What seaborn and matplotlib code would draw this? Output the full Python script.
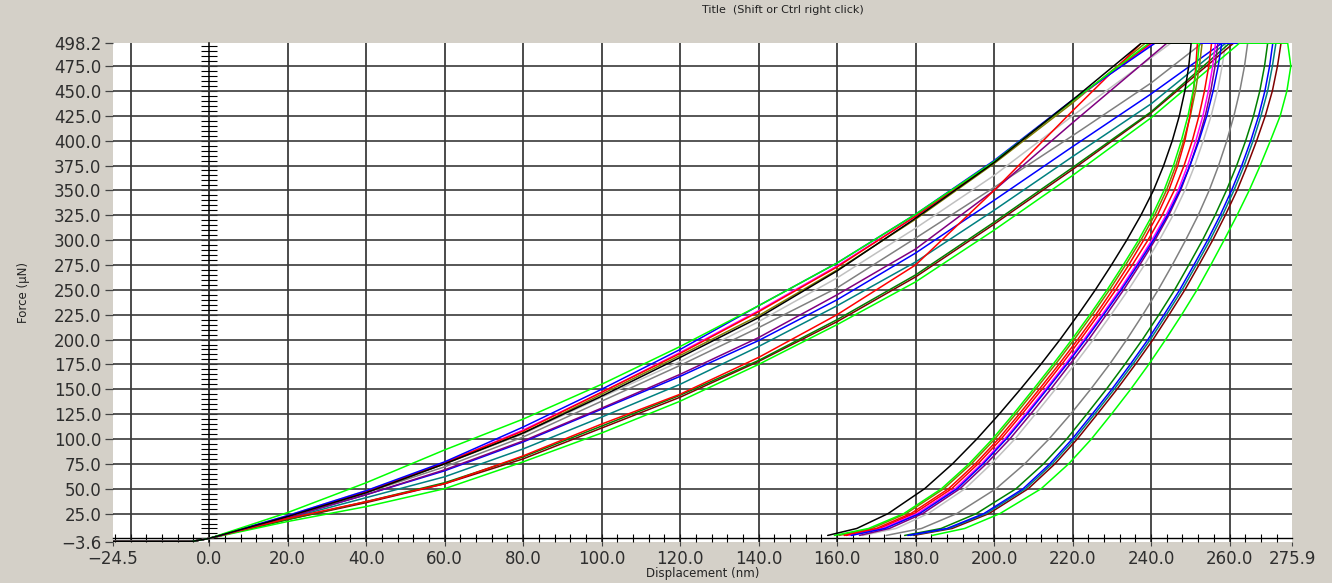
import numpy as np
import pandas as pd
import matplotlib
matplotlib.use("Agg")
import matplotlib.pyplot as plt
import seaborn as sns

# ---------------- data ----------------
CURVES = ["silver", "gray", "maroon", "teal", "darkgreen", "blue_B", "lime_B",
          "purple", "olive", "red2", "magenta", "red_A", "blue_A", "lime_A", "black"]
COLORS = {"silver": "#c0c0c0", "gray": "#808080", "maroon": "#800000", "teal": "#008080",
          "darkgreen": "#008000", "blue_B": "#0000ff", "lime_B": "#00ff00",
          "purple": "#800080", "olive": "#808000", "red2": "#ff0000", "magenta": "#ff00ff",
          "red_A": "#ff0000", "blue_A": "#0000ff", "lime_A": "#00ff00", "black": "#000000"}

# approach segment before contact (nm, uN)
APPROACH_X = [-24.5, -4.5]
APPROACH_F = [-3.1, -3.1]

# loading: force at these displacements (nm)
LOAD_X = [0, 20, 40, 60, 80, 100, 120, 140, 160, 180, 200, 220, 240]
LOAD_F = {
    "black":     [0, 22, 46, 75, 106, 143, 182, 222, 269, 322, 378, 441],
    "olive":     [0, 22, 46, 75, 106, 145, 184, 224, 270, 321, 377, 438],
    "lime_A":    [0, 26, 56, 89, 120, 155, 193, 234, 277, 326, 379, 440],
    "red_A":     [0, 22, 47, 76, 108, 147, 186, 228, 273, 324, 379, 440],
    "blue_A":    [0, 23, 48, 77, 112, 150, 190, 234, 277, 326, 380, 441],
    "magenta":   [0, 22, 47, 76, 109, 147, 187, 229, 274, 324, 379, 440],
    "silver":    [0, 23, 48, 75, 105, 142, 178, 218, 262, 312, 365, 425],
    "purple":    [0, 21, 44, 69, 98, 131, 165, 202, 245, 291, 350, 418],
    "red2":      [0, 20, 37, 55, 83, 115, 145, 182, 225, 275, 350, 430],
    "gray":      [0, 22, 46, 72, 102, 138, 174, 212, 252, 302, 353, 405, 458],
    "blue_B":    [0, 21, 44, 68, 97, 130, 163, 199, 240, 287, 340, 394, 447],
    "teal":      [0, 20, 41, 62, 90, 122, 155, 193, 234, 278, 330, 384, 437],
    "darkgreen": [0, 19, 37, 56, 82, 113, 144, 179, 220, 265, 318, 373, 429],
    "maroon":    [0, 19, 36, 55, 80, 111, 142, 178, 218, 263, 316, 371, 428],
    "lime_B":    [0, 17, 32, 50, 77, 106, 138, 175, 215, 258, 310, 365, 423],
}
# displacement where the loading reaches the peak force
LOAD_TOP_X = {"black": 237.5, "olive": 238.5, "lime_A": 239.5, "red_A": 240.0,
              "blue_A": 241.0, "magenta": 240.5, "silver": 245.0, "purple": 244.0,
              "red2": 237.5, "gray": 253.0, "blue_B": 258.0, "teal": 259.0,
              "darkgreen": 260.0, "maroon": 261.0, "lime_B": 262.5}
PEAK_F = 498.0

# unloading: displacement at these force levels (uN)
UNLOAD_F = [498, 475, 450, 425, 400, 375, 350, 325, 300, 275, 250, 225, 200, 175,
            150, 125, 100, 75, 50, 25, 10, 3]
UNLOAD_X = {
    "black":     [250.2, 249.6, 248.6, 247.2, 245.4, 243.2, 240.6, 237.4, 233.8, 229.9, 225.8,
                  221.4, 216.8, 211.9, 206.7, 201.3, 195.6, 189.4, 182.3, 173.0, 165.0, 157.6],
    "lime_A":    [252.3, 251.7, 250.7, 249.4, 247.7, 245.7, 243.3, 240.3, 236.8, 232.9, 228.8,
                  224.4, 219.8, 215.0, 210.0, 204.9, 199.6, 193.6, 186.6, 177.0, 168.0, 159.3],
    "olive":     [253.0, 252.3, 251.3, 250.0, 248.3, 246.3, 243.9, 240.9, 237.4, 233.5, 229.4,
                  225.0, 220.4, 215.6, 210.6, 205.5, 200.2, 194.2, 187.2, 177.6, 168.8, 160.5],
    "red_A":     [251.8, 251.4, 250.8, 249.9, 248.6, 246.8, 244.5, 241.6, 238.1, 234.3, 230.2,
                  225.9, 221.3, 216.5, 211.5, 206.4, 201.1, 195.2, 188.4, 178.8, 170.0, 161.8],
    "red2":      [255.4, 254.7, 253.6, 252.2, 250.5, 248.4, 245.9, 242.8, 239.2, 235.2, 231.0,
                  226.6, 222.0, 217.2, 212.2, 207.1, 201.8, 195.9, 189.2, 179.6, 170.8, 162.3],
    "magenta":   [256.4, 255.7, 254.6, 253.2, 251.4, 249.3, 246.9, 243.8, 240.2, 236.2, 232.0,
                  227.5, 222.9, 218.1, 213.1, 208.0, 202.7, 196.8, 190.1, 180.4, 171.5, 163.0],
    "blue_A":    [258.0, 257.1, 255.8, 254.2, 252.2, 249.9, 247.3, 244.2, 240.6, 236.6, 232.4,
                  227.9, 223.3, 218.5, 213.5, 208.4, 203.1, 197.2, 190.6, 181.0, 172.2, 163.6],
    "purple":    [257.0, 256.3, 255.2, 253.8, 252.0, 249.9, 247.5, 244.5, 241.0, 237.1, 233.0,
                  228.6, 224.1, 219.3, 214.4, 209.3, 204.0, 198.0, 191.3, 181.8, 173.3, 165.7],
    "silver":    [259.0, 258.1, 256.9, 255.3, 253.3, 251.1, 248.6, 245.6, 242.1, 238.3, 234.2,
                  229.8, 225.3, 220.5, 215.6, 210.5, 205.3, 199.3, 192.6, 183.2, 175.0, 166.5],
    "gray":      [264.6, 263.8, 262.6, 261.1, 259.3, 257.2, 254.8, 252.0, 248.8, 245.4, 241.8,
                  237.9, 233.8, 229.4, 224.6, 219.5, 214.0, 207.8, 200.5, 190.5, 181.5, 172.5],
    "darkgreen": [269.7, 268.9, 267.7, 266.1, 264.1, 261.8, 259.2, 256.3, 253.1, 249.6, 246.0,
                  242.0, 237.8, 233.3, 228.6, 223.6, 218.5, 212.6, 205.6, 195.5, 186.5, 177.2],
    "blue_B":    [271.0, 270.2, 269.0, 267.4, 265.4, 263.1, 260.5, 257.6, 254.4, 250.9, 247.3,
                  243.3, 239.2, 234.7, 230.0, 225.0, 219.9, 214.2, 207.4, 197.4, 188.0, 178.0],
    "teal":      [271.8, 270.9, 269.7, 268.0, 266.0, 263.7, 261.1, 258.2, 255.0, 251.5, 247.9,
                  243.9, 239.8, 235.3, 230.6, 225.6, 220.5, 214.8, 208.0, 198.0, 188.5, 178.6],
    "maroon":    [273.1, 272.2, 270.9, 269.1, 266.9, 264.5, 261.9, 258.9, 255.7, 252.2, 248.6,
                  244.6, 240.5, 236.0, 231.3, 226.3, 221.2, 215.5, 208.7, 198.7, 189.3, 179.5],
    "lime_B":    [274.8, 275.6, 274.6, 272.9, 270.4, 267.8, 265.0, 261.9, 258.6, 255.2, 251.7,
                  247.8, 243.7, 239.4, 234.8, 229.9, 224.8, 219.0, 212.0, 201.5, 192.5, 184.2],
}

XMIN, XMAX = -24.5, 275.9
YMIN, YMAX = -3.6, 498.2
XTICKS = [-24.5, 0, 20, 40, 60, 80, 100, 120, 140, 160, 180, 200, 220, 240, 260, 275.9]
YTICKS = [-3.6, 25, 50, 75, 100, 125, 150, 175, 200, 225, 250, 275, 300, 325, 350, 375,
          400, 425, 450, 475, 498.2]
GRID_X = [-20, 20, 40, 60, 80, 100, 120, 140, 160, 180, 200, 220, 240, 260]
GRID_Y = [25, 50, 75, 100, 125, 150, 175, 200, 225, 250, 275, 300, 325, 350, 375, 400, 425, 450, 475]

# ---------------- build long table ----------------
rows = []
for name in CURVES:
    lf = LOAD_F[name]
    xs = APPROACH_X + LOAD_X[:len(lf)] + [LOAD_TOP_X[name]] + UNLOAD_X[name]
    fs = APPROACH_F + lf + [PEAK_F] + UNLOAD_F
    for i, (x, f) in enumerate(zip(xs, fs)):
        rows.append({"curve": name, "order": i, "disp": x, "force": f})
df = pd.DataFrame(rows)

# ---------------- figure ----------------
sns.set_theme(style="white")
plt.rcParams["font.family"] = ["DejaVu Sans"]
BG = "#d4d0c8"
fig = plt.figure(figsize=(13.32, 5.83), dpi=100, facecolor=BG)
W, H = 1332, 583
L, R, T, B = 113, 1292, 43, 542
ax = fig.add_axes([L / W, 1 - B / H, (R - L) / W, (B - T) / H])
ax.set_facecolor("white")

for gx in GRID_X:
    ax.axvline(gx, color="#1a1a1a", lw=1.1, zorder=1)
for gy in GRID_Y:
    ax.axhline(gy, color="#3a3a3a", lw=1.2, zorder=1)

sns.lineplot(data=df, x="disp", y="force", hue="curve", hue_order=CURVES,
             palette=COLORS, sort=False, estimator=None, legend=False,
             linewidth=1.1, ax=ax, zorder=3)

ax.set_xlim(XMIN, XMAX)
ax.set_ylim(YMIN, YMAX)
for s in ax.spines.values():
    s.set_visible(False)

ax.set_xticks(XTICKS)
ax.set_xticklabels([f"{v:.1f}".replace("-", "\u2212") for v in XTICKS])
ax.set_yticks(YTICKS)
ax.set_yticklabels([f"{v:.1f}".replace("-", "\u2212") for v in YTICKS])
ax.tick_params(axis="x", which="major", direction="out", length=3, width=0.8,
               color="#444444", labelsize=12, labelcolor="#2e2e2e", pad=2.5, bottom=True)
ax.tick_params(axis="y", which="major", direction="out", length=6, width=0.9,
               color="#444444", labelsize=12, labelcolor="#2e2e2e", pad=2.5, left=True)

# zero axes with fine tick marks
secy = ax.secondary_yaxis((0 - XMIN) / (XMAX - XMIN))
secy.set_yticks(np.arange(0, 499, 5))
secy.tick_params(direction="inout", length=11, width=0.8, color="black",
                 labelleft=False, labelright=False)
for s in secy.spines.values():
    s.set_color("black")
    s.set_linewidth(1.1)

secx = ax.secondary_xaxis((0 - YMIN) / (YMAX - YMIN))
secx.set_xticks(np.arange(-24, 276, 4))
secx.tick_params(direction="inout", length=6, width=0.8, color="black",
                 labelbottom=False, labeltop=False)
for s in secx.spines.values():
    s.set_color("black")
    s.set_linewidth(1.0)

ax.set_xlabel("Displacement (nm)", fontsize=8.5, color="#222222")
ax.xaxis.set_label_coords(0.5, -(574 - B) / (B - T))
ax.xaxis.label.set_va("center")
ax.set_ylabel("Force (µN)", fontsize=8.5, color="#222222")
ax.yaxis.set_label_coords((24 - L) / (R - L), 0.5)
ax.yaxis.label.set_va("center")

fig.text(783 / W, 1 - 10 / H, "Title  (Shift or Ctrl right click)", fontsize=8,
         ha="center", va="center", color="#222222")

fig.savefig("out.png", dpi=100, facecolor=BG)
